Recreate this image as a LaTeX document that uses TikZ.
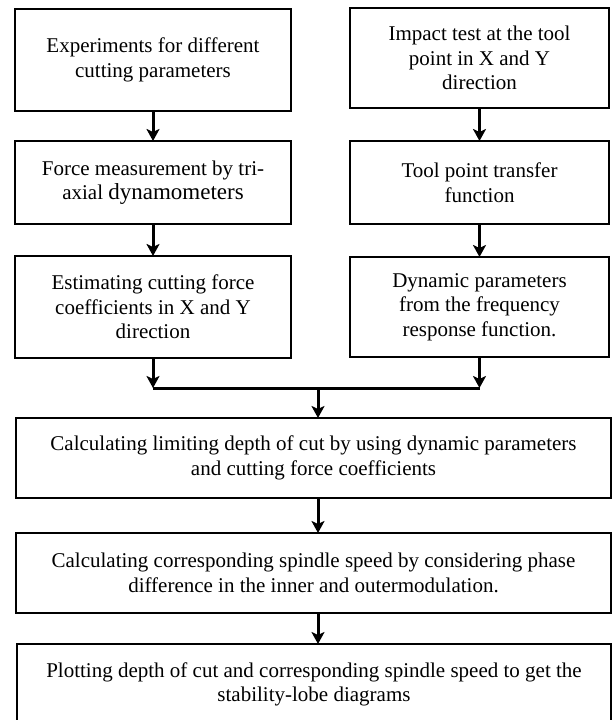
\documentclass[tikz,border=0pt]{standalone}
\usepackage{fontspec}
\setmainfont{Liberation Serif}
\usetikzlibrary{arrows.meta}

\tikzset{
	stepbox/.style={draw, line width=1bp, rectangle, inner sep=0pt, outer sep=0pt,
		align=center, font=\fontsize{10.5bp}{12.3bp}\selectfont},
	arr/.style={line width=1.5bp, -{Stealth[length=6bp,width=6.5bp,inset=1.5bp]}}
}

\begin{document}
\begin{tikzpicture}[x=0.5bp, y=-0.5bp]
			\useasboundingbox (0,0) rectangle (612,720);
			%%%%%%%%%%%%%%%%%%%%%%%%%%%%%%%%
			\node[stepbox, minimum width=138bp, minimum height=51bp] (exp) at (153,60)
				{Experiments for different\\cutting parameters};
			\node[stepbox, minimum width=129.5bp, minimum height=50bp] (impact) at (479.5,58)
				{Impact test at the tool\\point in X and Y\\direction};
			\node[stepbox, minimum width=138bp, minimum height=41.5bp] (force) at (153,182.5)
				{Force measurement by tri-\\axial {\fontsize{11.5bp}{12.3bp}\selectfont dynamometers}};
			\node[stepbox, minimum width=129.5bp, minimum height=41.5bp] (tpf) at (479.5,182.5)
				{Tool point transfer\\function};
			\node[stepbox, minimum width=138bp, minimum height=51bp] (coef) at (153,307)
				{Estimating cutting force\\coefficients in X and Y\\direction};
			\node[stepbox, minimum width=129.5bp, minimum height=50bp] (dyn) at (479.5,307)
				{Dynamic parameters\\from the frequency\\response function.};
			%%%%%%%%%%%%%%%%%%%%%%%%%%%%%%%%
			\node[stepbox, minimum width=297.5bp, minimum height=40bp] (limit) at (313.5,458)
				{Calculating limiting depth of cut by using dynamic parameters\\and cutting force coefficients};
			\node[stepbox, minimum width=297.5bp, minimum height=40bp] (speed) at (313.5,573)
				{Calculating corresponding spindle speed by considering phase\\difference in the inner and outermodulation.};
			\node[stepbox, minimum width=297bp, minimum height=40.5bp] (lobe) at (314,684.5)
				{Plotting depth of cut and corresponding spindle speed to get the\\stability-lobe diagrams};
			%%%%%%%%%%%%%%%%%%%%%%%%%%%%%%%%
			\draw[arr] (exp)--(force);
			\draw[arr] (force)--(coef);
			\draw[arr] (impact)--(tpf);
			\draw[arr] (tpf)--(dyn);
			%%%%%%%%%%%%%%%%%%%%%%%%%%%%%
			\coordinate (jl) at (153,388);
			\coordinate (jr) at (479.5,388);
			\coordinate (jm) at (318,388);
			\draw[arr] (coef)--(jl);
			\draw[arr] (dyn)--(jr);
			\draw[line width=1.5bp] (jl)--(jr);
			\draw[arr] (jm)--(jm |- limit.north);
			\draw[arr] (limit.south -| jm)--(speed.north -| jm);
			\draw[arr] (speed.south -| jm)--(lobe.north -| jm);
		\end{tikzpicture}
\end{document}
